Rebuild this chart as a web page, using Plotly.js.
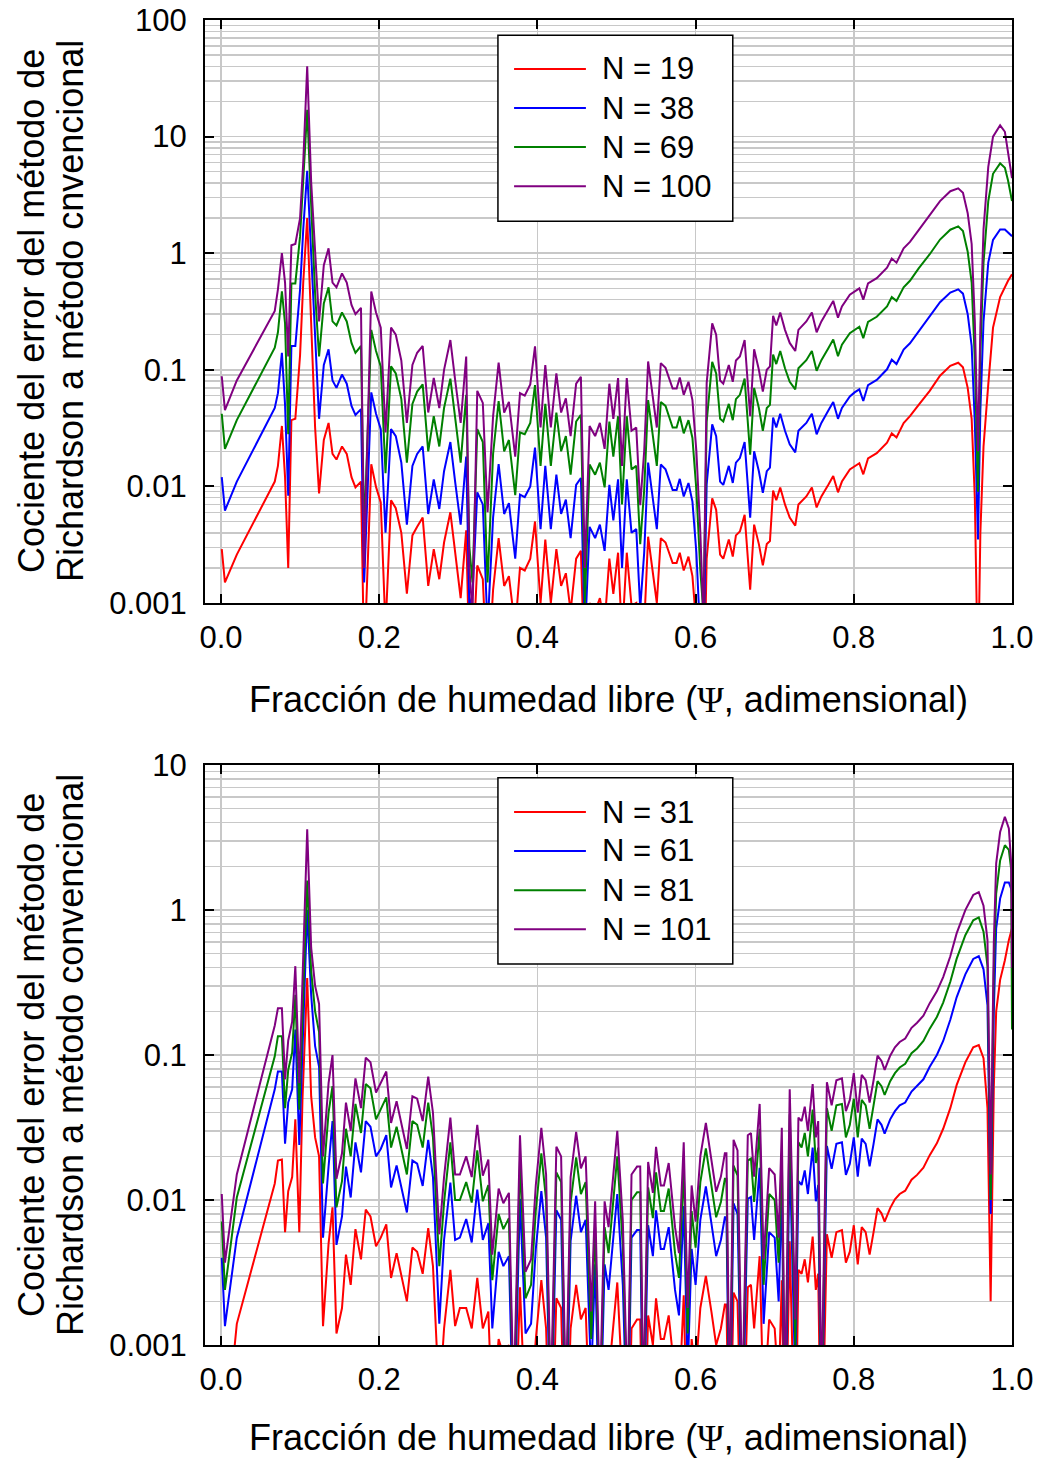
<!DOCTYPE html>
<html>
<head>
<meta charset="utf-8">
<script src="https://cdn.plot.ly/plotly-3.0.1.min.js"></script>
<style>html,body{margin:0;padding:0;background:#fff;}</style>
</head>
<body>
<div id="chart" style="width:1039px;height:1462px;"></div>
<script>
// ---------------- DATA (top panel) ----------------
const xTop = [0.001,0.005,0.020,0.068,0.072,0.077,0.081,0.085,0.089,0.094,
0.100,0.104,0.109,0.114,0.119,0.124,0.130,0.136,0.141,0.146,
0.153,0.159,0.165,0.170,0.177,0.181,0.190,0.196,0.202,0.208,
0.215,0.221,0.228,0.235,0.242,0.248,0.255,0.262,0.269,0.276,
0.282,0.290,0.296,0.303,0.310,0.314,0.318,0.324,0.331,0.337,
0.344,0.351,0.358,0.364,0.372,0.378,0.384,0.391,0.397,0.404,
0.410,0.417,0.424,0.430,0.436,0.442,0.449,0.455,0.460,0.466,
0.473,0.479,0.485,0.491,0.496,0.502,0.507,0.513,0.519,0.525,
0.530,0.535,0.540,0.546,0.551,0.556,0.562,0.571,0.576,0.580,
0.585,0.591,0.596,0.601,0.606,0.610,0.614,0.621,0.626,0.631,
0.635,0.642,0.647,0.651,0.656,0.662,0.669,0.674,0.680,0.685,
0.690,0.694,0.698,0.702,0.707,0.713,0.719,0.726,0.730,0.740,
0.747,0.753,0.759,0.768,0.774,0.780,0.785,0.795,0.801,0.807,
0.812,0.818,0.829,0.842,0.848,0.854,0.863,0.871,0.882,0.896,
0.909,0.922,0.932,0.938,0.944,0.949,0.953,0.957,0.960,0.964,
0.970,0.976,0.985,0.991,0.995,1.000];

const n100 = [0.088,0.045,0.081,0.32,0.49,1.0,0.56,0.13,1.17,1.2,
2.0,6.0,40,4.1,1.04,0.26,0.79,1.1,0.56,0.51,
0.67,0.56,0.36,0.30,0.34,0.002,0.47,0.31,0.23,0.029,
0.23,0.20,0.12,0.035,0.11,0.14,0.16,0.043,0.085,0.047,
0.10,0.18,0.082,0.035,0.13,0.002,0.0008,0.066,0.052,0.006,
0.040,0.115,0.043,0.053,0.018,0.063,0.060,0.075,0.159,0.032,
0.11,0.032,0.093,0.043,0.057,0.027,0.076,0.087,0.002,0.033,
0.027,0.035,0.021,0.076,0.038,0.085,0.015,0.085,0.030,0.032,
0.0069,0.020,0.118,0.059,0.032,0.114,0.104,0.069,0.069,0.086,
0.061,0.079,0.055,0.020,0.004,0.0007,0.077,0.25,0.20,0.081,
0.076,0.11,0.079,0.12,0.13,0.18,0.040,0.15,0.10,0.065,
0.10,0.107,0.29,0.24,0.31,0.22,0.17,0.145,0.22,0.26,
0.31,0.21,0.26,0.33,0.39,0.28,0.35,0.44,0.47,0.50,
0.40,0.55,0.61,0.75,0.90,0.83,1.1,1.25,1.58,2.1,
2.8,3.4,3.6,3.3,2.2,1.2,0.26,0.02,0.23,1.6,
5.5,10,12.5,11,7.4,4.4];

const n69 = [0.042,0.021,0.037,0.155,0.21,0.47,0.25,0.028,0.55,0.55,
1.4,4.0,17,2.6,0.45,0.13,0.37,0.51,0.26,0.24,
0.31,0.26,0.17,0.14,0.16,0.004,0.22,0.145,0.107,0.013,
0.107,0.093,0.056,0.016,0.051,0.065,0.075,0.02,0.04,0.022,
0.047,0.084,0.038,0.016,0.061,0.003,0.0015,0.031,0.024,0.0015,
0.019,0.054,0.02,0.025,0.0084,0.029,0.028,0.035,0.074,0.015,
0.051,0.015,0.043,0.02,0.027,0.0126,0.036,0.041,0.001,0.0154,
0.0126,0.016,0.0098,0.036,0.018,0.04,0.007,0.04,0.014,0.015,
0.0032,0.0093,0.055,0.0275,0.015,0.053,0.049,0.032,0.032,0.04,
0.0285,0.037,0.026,0.0093,0.0019,0.0008,0.036,0.117,0.093,0.038,
0.036,0.051,0.037,0.056,0.061,0.084,0.0187,0.07,0.047,0.03,
0.047,0.05,0.135,0.112,0.145,0.103,0.079,0.068,0.103,0.121,
0.145,0.098,0.121,0.154,0.182,0.131,0.164,0.206,0.22,0.234,
0.187,0.257,0.285,0.35,0.42,0.39,0.51,0.58,0.74,0.98,
1.31,1.59,1.7,1.55,1.03,0.56,0.12,0.009,0.14,0.83,
2.8,4.8,5.9,5.4,4.2,2.8];

const n38 = [0.012,0.0062,0.011,0.047,0.063,0.14,0.05,0.0083,0.16,0.16,
0.49,1.6,5.1,1.04,0.18,0.038,0.11,0.15,0.081,0.070,
0.091,0.076,0.049,0.041,0.046,0.0015,0.064,0.042,0.031,0.004,
0.031,0.027,0.016,0.0047,0.015,0.019,0.022,0.0058,0.0115,0.0064,
0.0135,0.024,0.011,0.0047,0.018,0.0009,0.0012,0.0089,0.007,0.0006,
0.0054,0.0155,0.0058,0.0072,0.0024,0.0085,0.0081,0.010,0.0215,0.0043,
0.015,0.0043,0.0126,0.0058,0.0077,0.0036,0.0103,0.0118,0.0005,0.0045,
0.0036,0.0047,0.0028,0.0103,0.0051,0.0115,0.002,0.0115,0.004,0.0043,
0.0009,0.0027,0.016,0.008,0.0043,0.0154,0.014,0.0093,0.0093,0.0116,
0.0082,0.0107,0.0074,0.0027,0.0005,0.0004,0.0104,0.034,0.027,0.011,
0.0103,0.015,0.0107,0.016,0.0175,0.024,0.0054,0.02,0.0135,0.0088,
0.0135,0.0145,0.039,0.032,0.042,0.030,0.023,0.0196,0.030,0.035,
0.042,0.028,0.035,0.045,0.053,0.038,0.047,0.059,0.064,0.068,
0.054,0.074,0.082,0.101,0.122,0.112,0.149,0.169,0.213,0.284,
0.38,0.46,0.49,0.45,0.30,0.16,0.035,0.0035,0.045,0.26,
0.83,1.3,1.6,1.6,1.5,1.4];

const n19 = [0.0029,0.0015,0.0026,0.011,0.015,0.033,0.012,0.002,0.037,0.038,
0.134,0.56,2.0,0.23,0.032,0.0087,0.025,0.035,0.019,0.017,
0.022,0.019,0.012,0.0098,0.011,0.0003,0.0155,0.0099,0.0073,0.0006,
0.0076,0.0065,0.004,0.0012,0.0038,0.0045,0.0054,0.0014,0.0029,0.0016,
0.0033,0.006,0.0027,0.0011,0.0042,0.0003,0.0003,0.0021,0.0016,0.0002,
0.0013,0.0036,0.0014,0.0017,0.0006,0.002,0.0019,0.0024,0.005,0.001,
0.0035,0.001,0.0029,0.0014,0.0018,0.00085,0.0024,0.0028,0.0002,0.001,
0.00085,0.0011,0.00066,0.0024,0.0012,0.0027,0.0005,0.0027,0.00095,0.001,
0.0002,0.00063,0.0037,0.0019,0.001,0.0036,0.0033,0.0022,0.0022,0.0027,
0.0019,0.0025,0.0017,0.00063,0.00013,0.0001,0.0024,0.0079,0.0063,0.0026,
0.0024,0.0035,0.0025,0.0038,0.0041,0.0057,0.0013,0.0047,0.0032,0.0021,
0.0032,0.0034,0.0092,0.0076,0.0098,0.007,0.0054,0.0046,0.007,0.0082,
0.0098,0.0066,0.0082,0.0104,0.0123,0.0089,0.011,0.014,0.0149,0.0158,
0.0127,0.0174,0.0193,0.0237,0.0285,0.0263,0.035,0.04,0.05,0.066,
0.089,0.108,0.115,0.105,0.07,0.038,0.008,0.0002,0.004,0.022,
0.075,0.23,0.42,0.52,0.58,0.66];

// ---------------- DATA (bottom panel) ----------------
const xBot = [0.001,0.005,0.020,0.068,0.072,0.077,0.081,0.085,0.090,0.094,
0.099,0.103,0.109,0.114,0.119,0.124,0.129,0.136,0.141,0.146,
0.153,0.158,0.164,0.170,0.177,0.183,0.189,0.196,0.202,0.209,
0.215,0.222,0.235,0.242,0.248,0.255,0.262,0.268,0.276,0.282,
0.290,0.296,0.302,0.310,0.317,0.324,0.331,0.338,0.343,0.351,
0.357,0.364,0.370,0.378,0.385,0.392,0.398,0.405,0.411,0.417,
0.424,0.430,0.436,0.442,0.449,0.455,0.461,0.468,0.473,0.479,
0.485,0.490,0.501,0.508,0.514,0.519,0.526,0.530,0.534,0.540,
0.546,0.550,0.556,0.560,0.566,0.574,0.579,0.585,0.590,0.595,
0.600,0.606,0.613,0.620,0.626,0.632,0.637,0.639,0.643,0.648,
0.653,0.659,0.666,0.670,0.674,0.681,0.686,0.693,0.700,0.705,
0.709,0.713,0.719,0.726,0.730,0.734,0.738,0.742,0.748,0.752,
0.755,0.759,0.766,0.772,0.778,0.785,0.790,0.795,0.800,0.805,
0.810,0.815,0.820,0.825,0.830,0.835,0.839,0.846,0.852,0.858,
0.865,0.873,0.880,0.888,0.896,0.905,0.913,0.922,0.930,0.941,
0.951,0.958,0.964,0.969,0.973,0.977,0.980,0.985,0.991,0.996,
0.999,1.000];

const n101 = [0.011,0.0037,0.015,0.16,0.21,0.21,0.068,0.126,0.17,0.41,
0.064,0.29,3.6,0.55,0.30,0.225,0.02,0.064,0.10,0.014,
0.021,0.047,0.030,0.069,0.043,0.096,0.089,0.055,0.064,0.077,
0.034,0.048,0.0225,0.052,0.050,0.035,0.071,0.040,0.0058,0.0144,
0.037,0.015,0.015,0.020,0.0144,0.033,0.0147,0.019,0.0042,0.012,
0.0095,0.0112,0.0004,0.028,0.0032,0.0039,0.0127,0.0315,0.015,0.0004,
0.0233,0.020,0.0004,0.0144,0.0295,0.0165,0.020,0.0017,0.0098,0.0004,
0.0098,0.0065,0.030,0.0072,0.0004,0.015,0.017,0.017,0.0004,0.0183,
0.0112,0.0233,0.0126,0.0126,0.018,0.0065,0.0043,0.025,0.0018,0.0126,
0.0071,0.020,0.034,0.019,0.0114,0.0145,0.021,0.021,0.0004,0.026,
0.022,0.0004,0.028,0.029,0.0145,0.046,0.0039,0.0166,0.015,0.0055,
0.0315,0.0004,0.058,0.0015,0.037,0.035,0.044,0.030,0.063,0.027,
0.035,0.0004,0.065,0.045,0.067,0.069,0.041,0.049,0.075,0.040,
0.073,0.067,0.047,0.067,0.099,0.091,0.079,0.099,0.113,0.123,
0.130,0.154,0.167,0.187,0.228,0.275,0.345,0.48,0.69,1.0,
1.27,1.33,1.07,0.62,0.015,0.6,2.1,3.45,4.4,3.65,
2.1,0.4];

const n81 = [0.0071,0.0024,0.0104,0.098,0.135,0.135,0.043,0.079,0.104,0.26,
0.042,0.2,1.6,0.38,0.2,0.144,0.013,0.040,0.061,0.0089,
0.0135,0.031,0.02,0.046,0.029,0.063,0.059,0.036,0.042,0.051,
0.023,0.032,0.015,0.035,0.033,0.023,0.047,0.027,0.0035,0.0096,
0.025,0.01,0.01,0.0133,0.0096,0.022,0.0098,0.0127,0.0028,0.008,
0.0063,0.0075,0.0003,0.0187,0.0021,0.0026,0.0085,0.021,0.01,0.0003,
0.0155,0.0133,0.0003,0.0096,0.0197,0.011,0.0133,0.0011,0.0065,0.0003,
0.0065,0.0043,0.02,0.0048,0.0003,0.01,0.0113,0.0113,0.0003,0.0122,
0.0075,0.0155,0.0084,0.0084,0.012,0.0043,0.0029,0.0167,0.0012,0.0084,
0.0047,0.0133,0.0227,0.0127,0.0076,0.0097,0.014,0.014,0.0003,0.0173,
0.0147,0.0003,0.0187,0.0193,0.0097,0.031,0.0026,0.011,0.01,0.0037,
0.021,0.0003,0.039,0.001,0.025,0.023,0.029,0.02,0.042,0.018,
0.023,0.0003,0.043,0.03,0.045,0.046,0.027,0.033,0.05,0.027,
0.049,0.045,0.031,0.045,0.066,0.061,0.053,0.066,0.075,0.082,
0.087,0.103,0.111,0.125,0.152,0.183,0.23,0.32,0.46,0.67,
0.85,0.89,0.71,0.41,0.01,0.38,1.3,2.2,2.8,2.6,
1.9,0.15];

const n61 = [0.004,0.00135,0.0055,0.058,0.077,0.077,0.0245,0.047,0.058,0.15,
0.024,0.11,1.0,0.26,0.115,0.083,0.0055,0.017,0.035,0.0049,
0.0077,0.017,0.0104,0.025,0.0155,0.035,0.032,0.020,0.0225,0.028,
0.0122,0.0173,0.0082,0.0187,0.0178,0.0125,0.026,0.0144,0.0014,0.0053,
0.0132,0.0053,0.0055,0.0074,0.0051,0.0118,0.0053,0.0069,0.0013,0.0044,
0.0035,0.0041,0.0002,0.0102,0.0012,0.0014,0.0046,0.0115,0.0055,0.0002,
0.0085,0.0073,0.0002,0.0052,0.0107,0.006,0.0073,0.0006,0.0036,0.0002,
0.0036,0.0024,0.011,0.0026,0.0002,0.0055,0.0062,0.0062,0.0002,0.0067,
0.0041,0.0085,0.0046,0.0046,0.0065,0.0024,0.0016,0.0091,0.00065,0.0046,
0.0026,0.0073,0.0124,0.0069,0.0041,0.0053,0.0076,0.0076,0.0002,0.0095,
0.008,0.0002,0.0102,0.0105,0.0053,0.0167,0.0014,0.006,0.0055,0.002,
0.0115,0.0002,0.021,0.00055,0.0135,0.0127,0.016,0.011,0.023,0.0098,
0.0127,0.0002,0.0236,0.0164,0.0244,0.025,0.0149,0.0178,0.027,0.0145,
0.0265,0.0244,0.0171,0.0244,0.036,0.033,0.0287,0.036,0.041,0.045,
0.047,0.056,0.061,0.068,0.083,0.1,0.125,0.175,0.25,0.36,
0.46,0.48,0.39,0.22,0.008,0.2,0.75,1.2,1.55,1.55,
1.4,1.3];

const n31 = [0.0004,0.0002,0.0014,0.013,0.0187,0.019,0.006,0.0115,0.0144,0.036,
0.006,0.049,0.34,0.052,0.027,0.020,0.00135,0.005,0.0089,0.0012,
0.0018,0.0042,0.0026,0.0063,0.0039,0.0086,0.0077,0.0048,0.0055,0.0068,
0.0029,0.0043,0.002,0.0047,0.0044,0.0031,0.0064,0.0035,0.0004,0.0013,
0.0033,0.00135,0.0018,0.0018,0.0013,0.0029,0.0013,0.0017,0.0003,0.0011,
0.00085,0.001,0.0001,0.0025,0.0003,0.00035,0.0011,0.0028,0.0013,0.0001,
0.0021,0.0018,0.0001,0.0013,0.0026,0.0015,0.0018,0.00015,0.0009,0.0001,
0.0009,0.0006,0.0027,0.00065,0.0001,0.0013,0.0015,0.0015,0.0001,0.0016,
0.001,0.0021,0.0011,0.0011,0.0016,0.0006,0.0004,0.0022,0.00016,0.0011,
0.00063,0.0018,0.003,0.0017,0.001,0.0013,0.0019,0.0019,0.0001,0.0023,
0.002,0.0001,0.0025,0.0026,0.0013,0.0041,0.00035,0.0015,0.0013,0.0005,
0.0028,0.0001,0.0052,0.00013,0.0033,0.0031,0.0039,0.0027,0.0056,0.0024,
0.0031,0.0001,0.0058,0.004,0.006,0.0062,0.0037,0.0044,0.0067,0.0036,
0.0065,0.006,0.0042,0.006,0.0088,0.0081,0.0071,0.0088,0.0101,0.011,
0.0116,0.0138,0.0149,0.0167,0.0204,0.0246,0.031,0.043,0.062,0.089,
0.113,0.117,0.095,0.043,0.002,0.06,0.2,0.33,0.45,0.62,
0.72,0.75];

// ---------------- LABELS ----------------
const topNames = ['N = 19','N = 38','N = 69','N = 100'];
const botNames = ['N = 31','N = 61','N = 81','N = 101'];
const colors = ['#ff0000','#0000ff','#008000','#800080'];
const xTickVals = [0,0.2,0.4,0.6,0.8,1.0];
const xTickText = ['0.0','0.2','0.4','0.6','0.8','1.0'];
const yTopVals = [0.001,0.01,0.1,1,10,100];
const yTopText = ['0.001','0.01','0.1','1','10','100'];
const yBotVals = [0.001,0.01,0.1,1,10];
const yBotText = ['0.001','0.01','0.1','1','10'];
const yTitleTop = ['Cociente del error del método de', 'Richardson a método cnvencional'];
const yTitleBot = ['Cociente del error del método de', 'Richardson a método convencional'];
const xTitle = 'Fracción de humedad libre (<span style="font-family:Liberation Serif">Ψ</span>, adimensional)';

// ---------------- BUILD ----------------
const FONT = 'Liberation Sans, Arial, Helvetica, sans-serif';
const topSeries = [n19, n38, n69, n100];
const botSeries = [n31, n61, n81, n101];

const traces = [];
topSeries.forEach((ys, i) => traces.push({
  x: xTop, y: ys, type: 'scatter', mode: 'lines', name: topNames[i],
  line: {color: colors[i], width: 2}, xaxis: 'x', yaxis: 'y', showlegend: false, hoverinfo: 'skip'
}));
botSeries.forEach((ys, i) => traces.push({
  x: xBot, y: ys, type: 'scatter', mode: 'lines', name: botNames[i],
  line: {color: colors[i], width: 2}, xaxis: 'x2', yaxis: 'y2', showlegend: false, hoverinfo: 'skip'
}));

function minorVals(lo, hi) {
  const v = [];
  for (let e = lo; e < hi; e++) for (let m = 2; m <= 9; m++) v.push(m * Math.pow(10, e));
  return v;
}

const GRID = '#c8c8c8';
const TICKFONT = {family: FONT, size: 31, color: '#000'};
function xAxis(anchor) {
  return {
    anchor: anchor, domain: [0, 1], range: [-0.0202, 1.0],
    tickmode: 'array', tickvals: xTickVals, ticktext: xTickText,
    ticks: 'inside', ticklen: 9, tickwidth: 2, tickcolor: '#000',
    showline: true, linewidth: 2, linecolor: '#000', mirror: 'ticks',
    showgrid: true, gridcolor: GRID, gridwidth: 1.5, zeroline: false,
    tickfont: TICKFONT, ticklabelstandoff: 6
  };
}
function yAxis(anchor, dom, range, vals, text) {
  return {
    anchor: anchor, domain: dom, type: 'log', range: range,
    tickmode: 'array', tickvals: vals, ticktext: text,
    ticks: 'inside', ticklen: 9, tickwidth: 2, tickcolor: '#000',
    showline: true, linewidth: 2, linecolor: '#000', mirror: 'ticks',
    showgrid: true, gridcolor: GRID, gridwidth: 1.5, zeroline: false,
    minor: {tickmode: 'array', tickvals: minorVals(range[0], range[1]), showgrid: true,
            gridcolor: GRID, gridwidth: 1.5, ticks: ''},
    tickfont: TICKFONT, ticklabelstandoff: 10
  };
}

const shapes = [];
const annotations = [];
function addLegend(xr, yr, names, box, rows) {
  shapes.push({type: 'rect', xref: xr, yref: yr, x0: box[0], x1: box[1], y0: box[2], y1: box[3],
    line: {color: '#000', width: 1.5}, fillcolor: '#fff', layer: 'above'});
  names.forEach((nm, i) => {
    shapes.push({type: 'line', xref: xr, yref: yr, x0: 0.383, x1: 0.472, y0: rows[i], y1: rows[i],
      line: {color: colors[i], width: 2}, layer: 'above'});
    annotations.push({xref: xr, yref: yr, x: 0.49, y: rows[i], xanchor: 'left', yanchor: 'middle',
      text: nm, showarrow: false, font: {family: FONT, size: 31, color: '#000'}});
  });
}
addLegend('x domain', 'y domain', topNames, [0.363, 0.654, 0.655, 0.974], [0.916, 0.849, 0.782, 0.715]);
addLegend('x2 domain', 'y2 domain', botNames, [0.363, 0.654, 0.657, 0.978], [0.919, 0.852, 0.784, 0.717]);

const titleFont = {family: FONT, size: 36, color: '#000'};
function addYTitle(lines, yc) {
  const xs = [-0.2144, -0.166];
  lines.forEach((t, i) => annotations.push({xref: 'paper', yref: 'paper', x: xs[i], y: yc, text: t,
    textangle: -90, showarrow: false, xanchor: 'center', yanchor: 'middle', font: titleFont}));
}
addYTitle(yTitleTop, 0.7804);
addYTitle(yTitleBot, 0.2189);
annotations.push({xref: 'paper', yref: 'paper', x: 0.5, y: 0.4868, text: xTitle,
  showarrow: false, xanchor: 'center', yanchor: 'middle', font: titleFont});
annotations.push({xref: 'paper', yref: 'paper', x: 0.5, y: -0.0695, text: xTitle,
  showarrow: false, xanchor: 'center', yanchor: 'middle', font: titleFont});

const layout = {
  width: 1039, height: 1462,
  margin: {l: 205, r: 27, t: 20, b: 117},
  paper_bgcolor: '#fff', plot_bgcolor: '#fff',
  showlegend: false,
  font: {family: FONT, color: '#000'},
  xaxis: xAxis('y'),
  yaxis: yAxis('x', [0.56, 1], [-3, 2], yTopVals, yTopText),
  xaxis2: xAxis('y2'),
  yaxis2: yAxis('x2', [0, 0.4377], [-3, 1], yBotVals, yBotText),
  shapes: shapes,
  annotations: annotations
};

Plotly.newPlot('chart', traces, layout, {displayModeBar: false, staticPlot: true});
</script>
</body>
</html>
